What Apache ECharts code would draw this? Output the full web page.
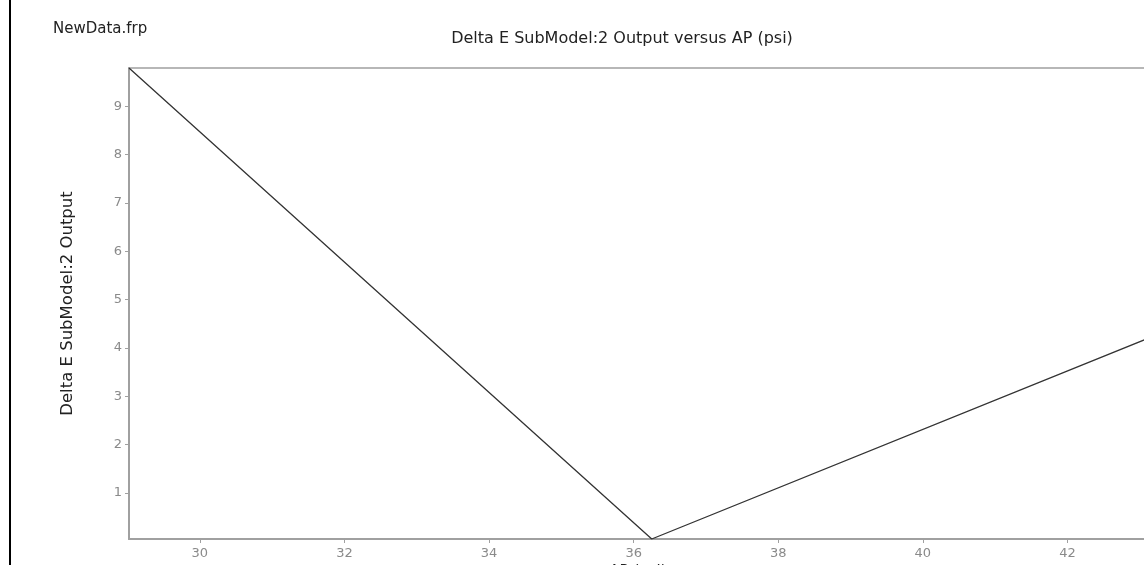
<!DOCTYPE html>
<html>
<head>
<meta charset="utf-8">
<script src="https://cdn.jsdelivr.net/npm/echarts@6/dist/echarts.min.js"></script>
<style>
  html, body { margin: 0; padding: 0; background: #fff; }
  #frame { position: absolute; left: 9px; top: 0; width: 2px; height: 565px; background: #000; }
  #chart { width: 1144px; height: 565px; }
</style>
</head>
<body>
<div id="chart"></div>
<div id="frame"></div>
<script>
// AP (psi) vs Delta E SubModel:2 output
const apValues = [29.02, 36.25, 43.10];
const deltaEValues = [9.79, 0.05, 4.19];
const yTickValues = [1, 2, 3, 4, 5, 6, 7, 8, 9];
const xTickValues = [30, 32, 34, 36, 38, 40, 42];

const fileLabel = 'NewData.frp';
const chartTitle = 'Delta E SubModel:2 Output versus AP (psi)';
const yName = 'Delta E SubModel:2 Output';
const xName = 'AP (psi)';

const chart = echarts.init(document.getElementById('chart'), null, { renderer: 'canvas' });
const fontFamily = '"DejaVu Sans", Verdana, sans-serif';
const axisGray = '#a0a0a0';

chart.setOption({
  animation: false,
  backgroundColor: '#ffffff',
  title: [
    { text: fileLabel, left: 48, top: 17, textStyle: { fontFamily, fontSize: 15, fontWeight: 'normal', color: '#222' } },
    { text: chartTitle, left: 617, top: 26, textAlign: 'center', textStyle: { fontFamily, fontSize: 16, fontWeight: 'normal', color: '#222' } }
  ],
  grid: {
    left: 129, top: 68, right: -3, bottom: 26,
    containLabel: false, outerBoundsMode: 'none',
    show: true, borderColor: axisGray, borderWidth: 1.5
  },
  xAxis: {
    type: 'value',
    min: apValues[0],
    max: apValues[apValues.length - 1],
    name: xName,
    nameLocation: 'middle',
    nameGap: 22,
    nameTextStyle: { fontFamily, fontSize: 15, color: '#222' },
    axisLine: { show: true, lineStyle: { color: axisGray, width: 2 } },
    axisTick: { show: true, length: 4, customValues: xTickValues, lineStyle: { color: axisGray } },
    axisLabel: { customValues: xTickValues, color: '#8a8a8a', fontFamily, fontSize: 13, margin: 8 },
    splitLine: { show: false }
  },
  yAxis: {
    type: 'value',
    min: 0.05,
    max: 9.79,
    name: yName,
    nameLocation: 'middle',
    nameGap: 53,
    nameRotate: 90,
    nameTextStyle: { fontFamily, fontSize: 16.5, color: '#222' },
    axisLine: { show: true, lineStyle: { color: axisGray, width: 2 } },
    axisTick: { show: true, length: 4, customValues: yTickValues, lineStyle: { color: axisGray } },
    axisLabel: { customValues: yTickValues, color: '#8a8a8a', fontFamily, fontSize: 13, margin: 7 },
    splitLine: { show: false }
  },
  series: [{
    type: 'line',
    data: apValues.map((x, i) => [x, deltaEValues[i]]),
    showSymbol: false,
    lineStyle: { color: '#333', width: 1.3 },
    silent: true
  }]
});
</script>
</body>
</html>
